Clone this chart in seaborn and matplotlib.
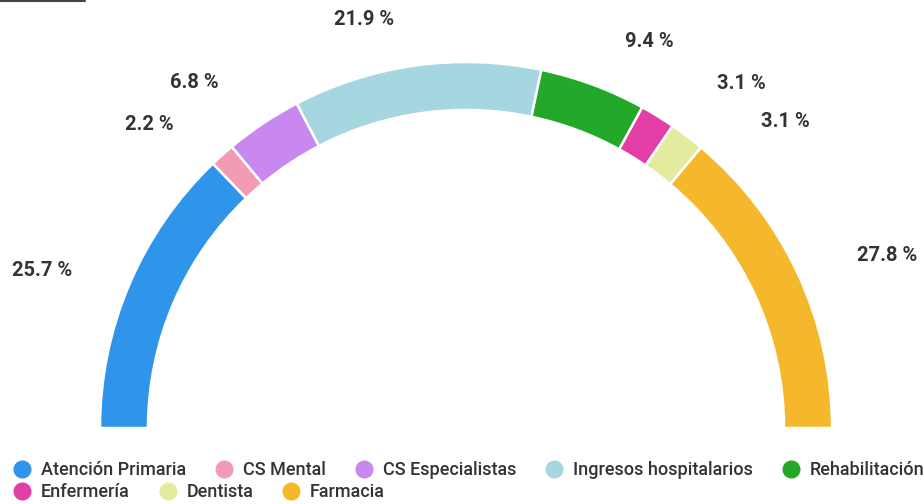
import numpy as np
import matplotlib.pyplot as plt
from matplotlib.lines import Line2D
import seaborn as sns

categories = ["Atención Primaria", "CS Mental", "CS Especialistas", "Ingresos hospitalarios",
              "Rehabilitación", "Enfermería", "Dentista", "Farmacia"]
shares = [25.7, 2.2, 6.8, 21.9, 9.4, 3.1, 3.1, 27.8]
colors = ["#2f95ea", "#f39bb4", "#c888f0", "#a6d7e1", "#23a82a", "#e23ea6", "#e5eb9e", "#f5b82c"]

sns.set_theme(style="white")
plt.rcParams['font.family'] = ['Roboto', 'DejaVu Sans']

W, H = 923, 504
fig = plt.figure(figsize=(W / 100, H / 100), dpi=100)
ax = fig.add_axes([0, 0, 1, 1])

cx, cy, R, ring = 466, -428, 366, 48
total = sum(shares)
# second half of the pie is hidden -> semicircle gauge
wedges, _ = ax.pie(shares + [total], colors=colors + ["none"], startangle=180, counterclock=False,
                   center=(cx, cy), radius=R, frame=True,
                   wedgeprops=dict(width=ring, edgecolor='white', linewidth=1.8))
wedges[-1].set_edgecolor('none')
ax.set_xlim(0, W)
ax.set_ylim(-H, 0)
ax.set_aspect('equal')
ax.axis('off')

# labels around the arc, nudged apart where slices are narrow
nudge = [2.8, 4.5, 4.5, 6.2, -5, -7, -9, -2.7]
label_r = [452, 439, 439, 421, 428, 441, 443, 455]
cum = np.cumsum([0] + shares[:-1])
for i, v in enumerate(shares):
    mid = 180 - (cum[i] + v / 2) / total * 180 + nudge[i]
    a = np.radians(mid)
    x = cx + label_r[i] * np.cos(a)
    y = cy + label_r[i] * np.sin(a)
    ax.text(x, y, f"{v:.1f} %", ha='center', va='center', fontsize=14.5,
            fontweight='bold', color='#333333')

handles = [Line2D([], [], marker='o', linestyle='', markersize=12, markerfacecolor=c,
                  markeredgecolor=c) for c in colors]
lkw = dict(frameon=False, handletextpad=0.45, columnspacing=1.5, borderpad=0,
           borderaxespad=0, handlelength=1.2,
           prop=dict(family='Roboto', weight='medium', size=13))
leg1 = fig.legend(handles[:5], categories[:5], loc='center left',
                  bbox_to_anchor=(0.012, 1 - 470 / H), ncol=5, **lkw)
leg2 = fig.legend(handles[5:], categories[5:], loc='center left',
                  bbox_to_anchor=(0.012, 1 - 492 / H), ncol=3, **lkw)
for leg in (leg1, leg2):
    for t in leg.get_texts():
        t.set_color('#333333')

fig.add_artist(Line2D([0, 85 / W], [1 - 1 / H, 1 - 1 / H], color='#444444', linewidth=1.5))

fig.savefig('out.png', dpi=100, facecolor='white')
